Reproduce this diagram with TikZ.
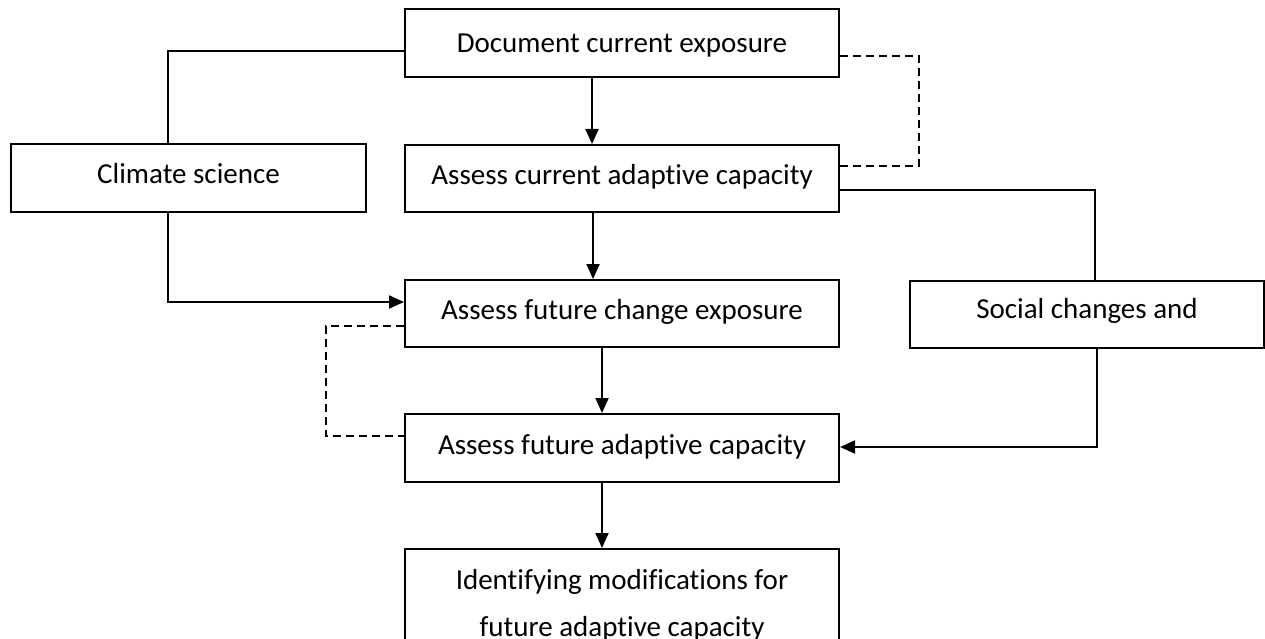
\documentclass[tikz,border=0pt]{standalone}
\usepackage{fontspec}
\setmainfont{Carlito}[Ligatures=NoCommon]
\usetikzlibrary{arrows.meta}
\begin{document}
\begin{tikzpicture}[x=1pt,y=-1pt,
  box/.style={draw, line width=2pt, minimum width=434pt, minimum height=68pt, inner sep=0pt,
              font=\fontsize{29}{35}\selectfont, text height=18.7pt, text depth=6pt},
  txt/.style={font=\fontsize{29}{35}\selectfont, inner sep=0pt, anchor=base},
  ln/.style={line width=2pt},
  arr/.style={line width=2pt, -{Triangle[length=15pt,width=13pt]}},
  dsh/.style={line width=2pt, dash pattern=on 8pt off 5pt}]
\clip (0,0) rectangle (1265,639);
\fill[white] (0,0) rectangle (1265,639);

\node[box, text depth=0pt] (doc) at (622,43) {Document current exposure};
\node[box, minimum height=67pt] (cur) at (622,178.5) {Assess current adaptive capacity};
\node[box, minimum width=355pt, text depth=7pt] (cli) at (188.5,178) {Climate science};
\node[box, minimum height=67pt] (fch) at (622,313.5) {Assess future change exposure};
\node[box, minimum width=354pt, minimum height=67pt, text depth=10pt] (soc) at (1087,314.5) {Social changes and};
\node[box] (fad) at (622,448) {Assess future adaptive capacity};
\node[box, minimum height=131pt] (idn) at (622,614.5) {};
\node[txt] (idn1) at (622,589) {Identifying modifications for};
\node[txt] (idn2) at (622,636) {future adaptive capacity};

% climate science links
\draw[ln] ([yshift=-8pt]doc.west) -| ([xshift=-20.5pt]cli.north);
\draw[arr] ([xshift=-20.5pt]cli.south) |- ([yshift=11.5pt]fch.west);

% main chain
\draw[arr] ([xshift=-30pt]doc.south) -- ([xshift=-30pt]cur.north);
\draw[arr] ([xshift=-29pt]cur.south) -- ([xshift=-29pt]fch.north);
\draw[arr] ([xshift=-20pt]fch.south) -- ([xshift=-20pt]fad.north);
\draw[arr] ([xshift=-20pt]fad.south) -- ([xshift=-20pt]idn.north);

% dashed feedback loops
\draw[dsh] ([yshift=-13pt]doc.east) -- ++(79,0) |- ([yshift=12.5pt]cur.east);
\draw[dsh] ([yshift=-12.5pt]fch.west) -- ++(-78,0) |- ([yshift=12pt]fad.west);

% social changes links
\draw[ln] ([yshift=-11.5pt]cur.east) -| ([xshift=8pt]soc.north);
\draw[arr] ([xshift=10pt]soc.south) |- ([yshift=1pt]fad.east);
\end{tikzpicture}
\end{document}
